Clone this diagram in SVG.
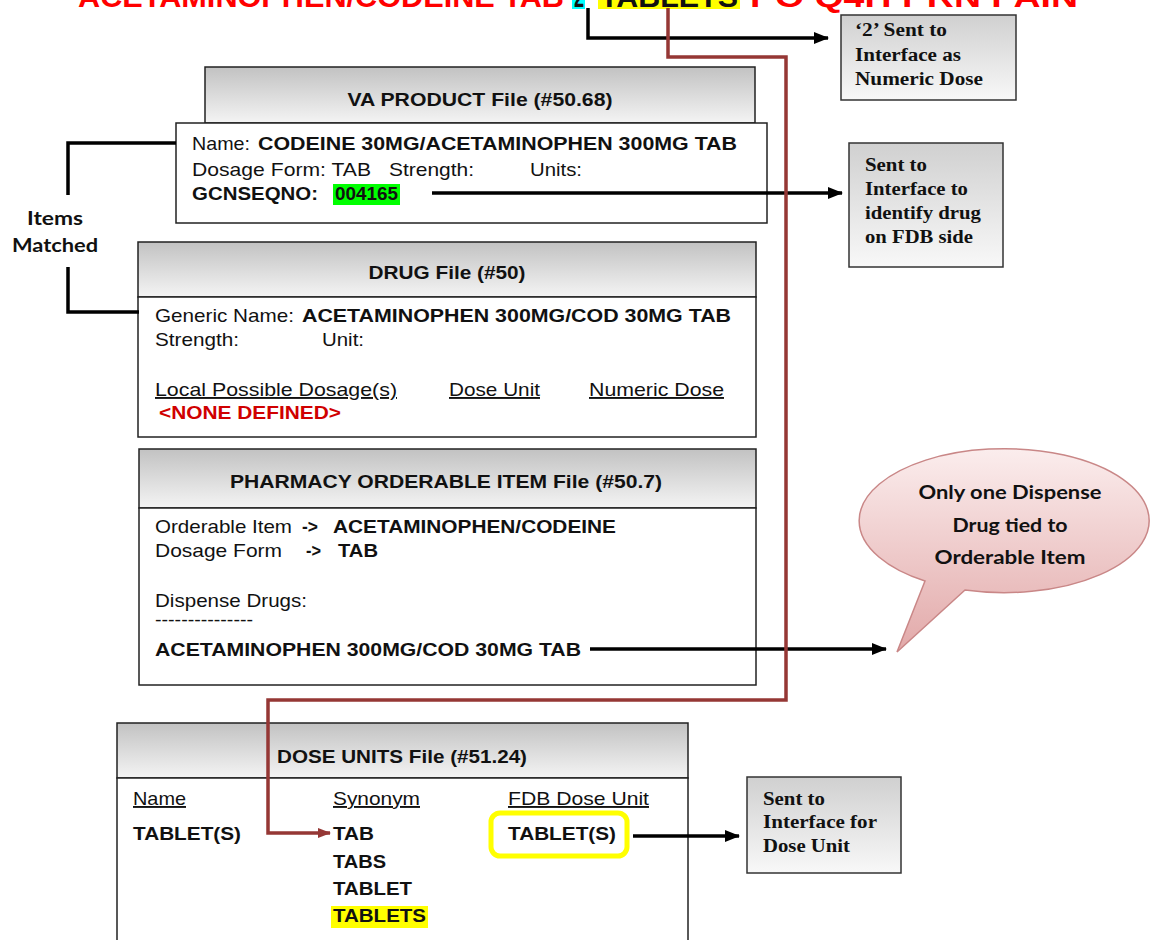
<svg xmlns="http://www.w3.org/2000/svg" width="1150" height="940" viewBox="0 0 1150 940">
<defs>
<linearGradient id="hdr" x1="0" y1="0" x2="0" y2="1"><stop offset="0" stop-color="#c2c2c2"/><stop offset="1" stop-color="#f4f4f4"/></linearGradient>
<linearGradient id="note" x1="0" y1="0" x2="0" y2="1"><stop offset="0" stop-color="#d0d0d0"/><stop offset="1" stop-color="#f8f8f8"/></linearGradient>
<linearGradient id="bub" x1="0" y1="0" x2="0" y2="1"><stop offset="0" stop-color="#fbeded"/><stop offset="1" stop-color="#e2a9a9"/></linearGradient>
<marker id="ah" markerUnits="userSpaceOnUse" markerWidth="16" markerHeight="14" refX="14" refY="7" orient="auto"><path d="M0,1 L15,7 L0,13 Z" fill="#000"/></marker>
<marker id="ahr" markerUnits="userSpaceOnUse" markerWidth="14" markerHeight="12" refX="12" refY="6" orient="auto"><path d="M0,1 L13,6 L0,11 Z" fill="#953735"/></marker>
<style>
.box{fill:#fff;stroke:#222;stroke-width:1.5}
.hdr{fill:url(#hdr);stroke:#222;stroke-width:1.5}
.note{fill:url(#note);stroke:#333;stroke-width:1.5}
.t{font-family:"Liberation Sans",Arial,sans-serif;font-size:19px;fill:#111}
.b{font-weight:bold}
.ttl{font-family:"Liberation Sans",Arial,sans-serif;font-size:19px;font-weight:bold;fill:#111;text-anchor:middle}
.nt{font-family:"Liberation Serif","Times New Roman",serif;font-size:18px;font-weight:bold;fill:#111}
.cal{font-family:Lato,"Open Sans",sans-serif;font-size:19px;font-weight:bold;fill:#111;text-anchor:middle}
.u{text-decoration:underline}
.conn{fill:none;stroke:#000;stroke-width:3.5}
.red{fill:none;stroke:#953735;stroke-width:3.5}
</style>
</defs>
<rect width="1150" height="940" fill="#fff"/>

<g id="order-text">
<rect x="572" y="-20" width="13" height="29" fill="#00ffff"/>
<rect x="598" y="-20" width="142" height="29" fill="#ffff00"/>
<text class="t b" style="font-size:30px;fill:#ff0000" x="78" y="7" textLength="486" lengthAdjust="spacingAndGlyphs">ACETAMINOPHEN/CODEINE TAB</text>
<text class="t b" style="font-size:30px" x="574" y="7" textLength="10" lengthAdjust="spacingAndGlyphs">2</text>
<text class="t b" style="font-size:30px" x="600" y="7" textLength="138" lengthAdjust="spacingAndGlyphs">TABLETS</text>
<text class="t b" style="font-size:30px;fill:#ff0000" x="750" y="7" textLength="328" lengthAdjust="spacingAndGlyphs">PO Q4H PRN PAIN</text>
</g>

<g id="items-matched">
<text class="cal" x="55" y="225" textLength="56" lengthAdjust="spacingAndGlyphs">Items</text>
<text class="cal" x="55" y="252" textLength="86" lengthAdjust="spacingAndGlyphs">Matched</text>
</g>

<g id="note-numeric-dose">
<rect class="note" x="841" y="15" width="175" height="85"/>
<text class="nt" x="855" y="36" textLength="92" lengthAdjust="spacingAndGlyphs">‘2’ Sent to</text>
<text class="nt" x="855" y="61" textLength="106" lengthAdjust="spacingAndGlyphs">Interface as</text>
<text class="nt" x="855" y="85" textLength="128" lengthAdjust="spacingAndGlyphs">Numeric Dose</text>
</g>

<g id="va-product">
<rect class="hdr" x="205" y="67" width="550" height="56"/>
<text class="ttl" x="480" y="106" textLength="265" lengthAdjust="spacingAndGlyphs">VA PRODUCT  File (#50.68)</text>
<rect class="box" x="176" y="123" width="591" height="100"/>
<text class="t" x="192" y="150" textLength="58" lengthAdjust="spacingAndGlyphs">Name:</text>
<text class="t b" x="258" y="150" textLength="479" lengthAdjust="spacingAndGlyphs">CODEINE 30MG/ACETAMINOPHEN  300MG TAB</text>
<text class="t" x="192" y="176" textLength="179" lengthAdjust="spacingAndGlyphs">Dosage Form: TAB</text>
<text class="t" x="389" y="176" textLength="85" lengthAdjust="spacingAndGlyphs">Strength:</text>
<text class="t" x="530" y="176" textLength="52" lengthAdjust="spacingAndGlyphs">Units:</text>
<rect x="333" y="184" width="67" height="21" fill="#00ff00"/>
<text class="t b" x="192" y="200" textLength="126" lengthAdjust="spacingAndGlyphs">GCNSEQNO:</text>
<text class="t b" x="335" y="200" textLength="63" lengthAdjust="spacingAndGlyphs">004165</text>
</g>

<g id="note-fdb">
<rect class="note" x="849" y="143" width="154" height="124"/>
<text class="nt" x="865" y="171" textLength="62" lengthAdjust="spacingAndGlyphs">Sent to</text>
<text class="nt" x="865" y="195" textLength="103" lengthAdjust="spacingAndGlyphs">Interface to</text>
<text class="nt" x="865" y="219" textLength="116" lengthAdjust="spacingAndGlyphs">identify drug</text>
<text class="nt" x="865" y="243" textLength="108" lengthAdjust="spacingAndGlyphs">on FDB side</text>
</g>

<g id="drug-file">
<rect class="hdr" x="138" y="242" width="618" height="55"/>
<text class="ttl" x="447" y="279" textLength="157" lengthAdjust="spacingAndGlyphs">DRUG File (#50)</text>
<rect class="box" x="138" y="297" width="618" height="140"/>
<text class="t" x="155" y="322" textLength="139" lengthAdjust="spacingAndGlyphs">Generic Name:</text>
<text class="t b" x="302" y="322" textLength="429" lengthAdjust="spacingAndGlyphs">ACETAMINOPHEN  300MG/COD  30MG TAB</text>
<text class="t" x="155" y="346" textLength="84" lengthAdjust="spacingAndGlyphs">Strength:</text>
<text class="t" x="322" y="346" textLength="42" lengthAdjust="spacingAndGlyphs">Unit:</text>
<text class="t u" x="155" y="396" textLength="242" lengthAdjust="spacingAndGlyphs">Local Possible Dosage(s)</text>
<text class="t u" x="449" y="396" textLength="91" lengthAdjust="spacingAndGlyphs">Dose Unit</text>
<text class="t u" x="589" y="396" textLength="135" lengthAdjust="spacingAndGlyphs">Numeric Dose</text>
<text class="t b" style="fill:#d00000" x="159" y="419" textLength="182" lengthAdjust="spacingAndGlyphs">&lt;NONE DEFINED&gt;</text>
</g>

<g id="orderable-item">
<rect class="hdr" x="139" y="449" width="617" height="59"/>
<text class="ttl" x="446" y="488" textLength="432" lengthAdjust="spacingAndGlyphs">PHARMACY  ORDERABLE  ITEM File (#50.7)</text>
<rect class="box" x="139" y="508" width="617" height="177"/>
<text class="t" x="155" y="533" textLength="137" lengthAdjust="spacingAndGlyphs">Orderable Item</text>
<text class="t b" x="302" y="533" textLength="16" lengthAdjust="spacingAndGlyphs">-&gt;</text>
<text class="t b" x="333" y="533" textLength="283" lengthAdjust="spacingAndGlyphs">ACETAMINOPHEN/CODEINE</text>
<text class="t" x="155" y="557" textLength="127" lengthAdjust="spacingAndGlyphs">Dosage Form</text>
<text class="t b" x="306" y="557" textLength="15" lengthAdjust="spacingAndGlyphs">-&gt;</text>
<text class="t b" x="338" y="557" textLength="40" lengthAdjust="spacingAndGlyphs">TAB</text>
<text class="t" x="155" y="607" textLength="152" lengthAdjust="spacingAndGlyphs">Dispense Drugs:</text>
<text class="t" x="155" y="626" textLength="98" lengthAdjust="spacingAndGlyphs">---------------</text>
<text class="t b" x="155" y="656" textLength="426" lengthAdjust="spacingAndGlyphs">ACETAMINOPHEN  300MG/COD 30MG TAB</text>
</g>

<g id="bubble">
<path d="M965,590 A145 72 0 1 0 925,581 L897,652 Z" fill="url(#bub)" stroke="#c98787" stroke-width="1.5"/>
<text class="cal" x="1010" y="499" textLength="183" lengthAdjust="spacingAndGlyphs">Only one Dispense</text>
<text class="cal" x="1010" y="532" textLength="115" lengthAdjust="spacingAndGlyphs">Drug tied to</text>
<text class="cal" x="1010" y="564" textLength="151" lengthAdjust="spacingAndGlyphs">Orderable Item</text>
</g>

<g id="dose-units">
<rect class="hdr" x="117" y="723" width="571" height="55"/>
<text class="ttl" x="402" y="763" textLength="250" lengthAdjust="spacingAndGlyphs">DOSE UNITS File (#51.24)</text>
<rect class="box" x="117" y="778" width="571" height="175"/>
<text class="t u" x="133" y="805" textLength="53" lengthAdjust="spacingAndGlyphs">Name</text>
<text class="t u" x="333" y="805" textLength="87" lengthAdjust="spacingAndGlyphs">Synonym</text>
<text class="t u" x="508" y="805" textLength="141" lengthAdjust="spacingAndGlyphs">FDB Dose Unit</text>
<text class="t b" x="133" y="840" textLength="108" lengthAdjust="spacingAndGlyphs">TABLET(S)</text>
<text class="t b" x="333" y="840" textLength="41" lengthAdjust="spacingAndGlyphs">TAB</text>
<text class="t b" x="333" y="868" textLength="53" lengthAdjust="spacingAndGlyphs">TABS</text>
<text class="t b" x="333" y="895" textLength="79" lengthAdjust="spacingAndGlyphs">TABLET</text>
<rect x="331" y="906" width="97" height="22" fill="#ffff00"/>
<text class="t b" x="333" y="922" textLength="93" lengthAdjust="spacingAndGlyphs">TABLETS</text>
<rect x="491" y="813" width="136" height="43" rx="9" fill="none" stroke="#ffff00" stroke-width="5"/>
<text class="t b" x="508" y="840" textLength="108" lengthAdjust="spacingAndGlyphs">TABLET(S)</text>
</g>

<g id="note-dose-unit">
<rect class="note" x="747" y="777" width="154" height="96"/>
<text class="nt" x="763" y="805" textLength="62" lengthAdjust="spacingAndGlyphs">Sent to</text>
<text class="nt" x="763" y="828" textLength="114" lengthAdjust="spacingAndGlyphs">Interface for</text>
<text class="nt" x="763" y="852" textLength="87" lengthAdjust="spacingAndGlyphs">Dose Unit</text>
</g>

<g id="connectors">
<path class="conn" d="M588,8 V38 H828" marker-end="url(#ah)"/>
<path class="conn" d="M432,193 H842" marker-end="url(#ah)"/>
<path class="conn" d="M590,649 H886" marker-end="url(#ah)"/>
<path class="conn" d="M633,836 H739" marker-end="url(#ah)"/>
<path class="conn" d="M176,143 H68 V195"/>
<path class="conn" d="M68,267 V312 H139"/>
<path class="red" d="M668,8 V57 H786 V700 H268 V833 H330" marker-end="url(#ahr)"/>
</g>
</svg>
